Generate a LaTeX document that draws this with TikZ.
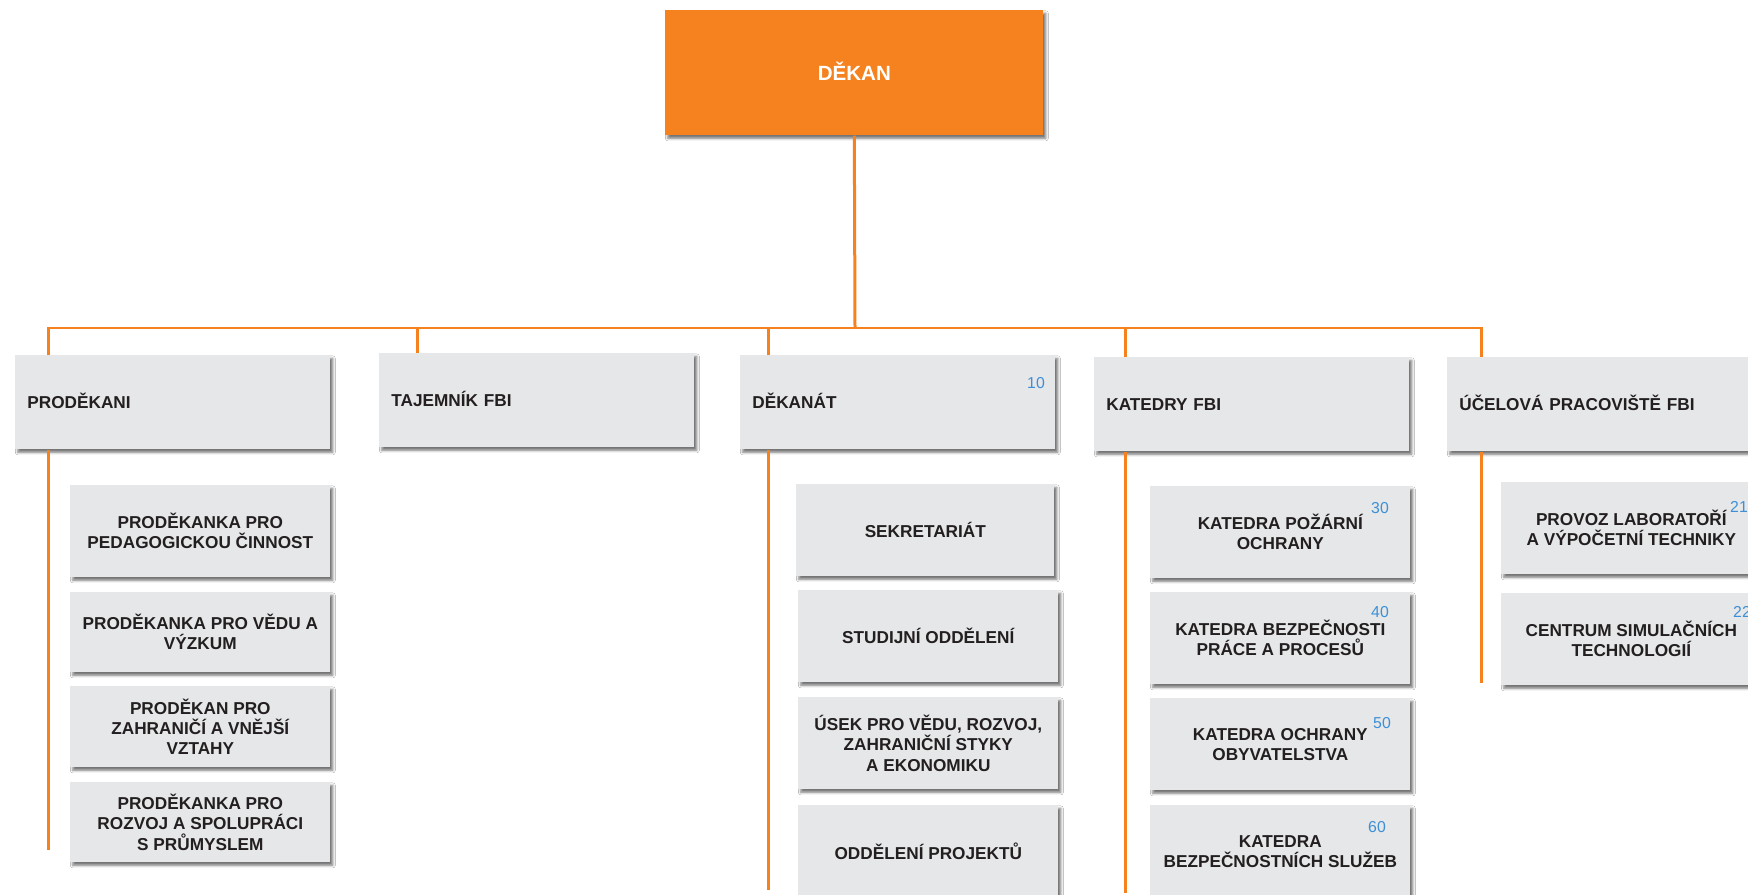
\documentclass[tikz,border=0pt]{standalone}
\usepackage{fontspec}
\setmainfont{Liberation Sans}
\usetikzlibrary{calc,shadows.blur}
\definecolor{fbiorange}{HTML}{F5821F}
\definecolor{boxgray}{HTML}{E6E7E8}
\definecolor{numblue}{HTML}{3D8FD6}
\definecolor{ink}{HTML}{231F20}
\tikzset{
	card/.style={anchor=north west, fill=boxgray, inner sep=0pt, text=ink,
		font=\fontsize{9.8}{11.4}\selectfont\bfseries,
		blur shadow={shadow xshift=0.05cm, shadow yshift=-0.06cm, shadow blur radius=0.05cm,
			shadow blur steps=4, shadow opacity=55}},
	headbox/.style={card, minimum width=6.3cm, minimum height=1.88cm, text width=5.82cm, align=left,
		text height=0.8em, text depth=0.05em},
	subbox/.style={card, minimum width=5.2cm, minimum height=1.84cm, align=center},
	link/.style={draw=fbiorange, line width=0.06cm},
	num/.style={text=numblue, font=\fontsize{9}{10}\selectfont, inner sep=0pt},
}

\begin{document}
\begin{tikzpicture}[x=0.02cm, y=-0.02cm]
		%%%%% START %%%%%
		
		\fill[white] (0, 0) rectangle (1748, 895);
		\useasboundingbox (0, 0) rectangle (1748, 895);
		
		\node[card, fill=fbiorange, text=white, minimum width=7.56cm, minimum height=2.5cm,
			text height=0.85em, text depth=0pt,
			font=\fontsize{11.7}{14}\selectfont\bfseries] (dekan) at (665, 10) {DĚKAN};
		
		\node[headbox] (prodekani) at (15, 355) {PRODĚKANI};
		\node[headbox] (tajemnik) at (379, 353) {TAJEMNÍK FBI};
		\node[headbox] (dekanat) at (740, 355) {DĚKANÁT};
		\node[headbox] (katedry) at (1094, 357) {KATEDRY FBI};
		\node[headbox] (ucelova) at (1447, 357) {ÚČELOVÁ PRACOVIŠTĚ FBI};
		
		\node[subbox] (pro1) at (70, 485) {PRODĚKANKA PRO\\PEDAGOGICKOU ČINNOST};
		\node[subbox, minimum height=1.6cm] (pro2) at (70, 592) {PRODĚKANKA PRO VĚDU A\\VÝZKUM};
		\node[subbox, minimum height=1.62cm] (pro3) at (70, 686) {PRODĚKAN PRO\\ZAHRANIČÍ A VNĚJŠÍ\\VZTAHY};
		\node[subbox, minimum height=1.6cm] (pro4) at (70, 782) {PRODĚKANKA PRO\\ROZVOJ A SPOLUPRÁCI\\S PRŮMYSLEM};
		
		\node[subbox, minimum width=5.16cm] (sekr) at (796, 484) {SEKRETARIÁT};
		\node[subbox] (stud) at (798, 590) {STUDIJNÍ ODDĚLENÍ};
		\node[subbox] (usek) at (798, 697) {ÚSEK PRO VĚDU, ROZVOJ,\\ZAHRANIČNÍ STYKY\\A EKONOMIKU};
		\node[subbox] (projekty) at (798, 805) {ODDĚLENÍ PROJEKTŮ};
		
		\node[subbox] (kat1) at (1150, 486) {KATEDRA POŽÁRNÍ\\OCHRANY};
		\node[subbox] (kat2) at (1150, 592) {KATEDRA BEZPEČNOSTI\\PRÁCE A PROCESŮ};
		\node[subbox] (kat3) at (1150, 698) {KATEDRA OCHRANY\\OBYVATELSTVA};
		\node[subbox] (kat4) at (1150, 805) {KATEDRA\\BEZPEČNOSTNÍCH SLUŽEB};
		
		\node[subbox] (lab) at (1501, 482) {PROVOZ LABORATOŘÍ\\A VÝPOČETNÍ TECHNIKY};
		\node[subbox] (centrum) at (1501, 593) {CENTRUM SIMULAČNÍCH\\TECHNOLOGIÍ};
		
		\node[num] (n10) at (1036, 383) {10};
		\node[num] (n30) at (1380, 508) {30};
		\node[num] (n40) at (1380, 612) {40};
		\node[num] (n50) at (1382, 723) {50};
		\node[num] (n60) at (1377, 827) {60};
		\node[num] (n21) at (1739, 507) {21};
		\node[num] (n22) at (1742, 612) {22};
		
		\coordinate (hub) at (855, 328);
		\coordinate (d1) at ($(prodekani.north west)+(33, 0)$);
		\coordinate (d2) at ($(tajemnik.north west)+(38, 0)$);
		\coordinate (d3) at ($(dekanat.north west)+(28, 0)$);
		\coordinate (d4) at ($(katedry.north west)+(31, 0)$);
		\coordinate (d5) at ($(ucelova.north west)+(34, 0)$);
		\coordinate (e1) at (48, 850);
		\coordinate (e3) at (768, 890);
		\coordinate (e4) at (1125, 893);
		\coordinate (e5) at (1481, 683);
		
		\draw[link] (dekan.south) -- (hub);
		\draw[link] (d1) |- (hub) -| (d5);
		\draw[link] (d2) -- (d2 |- hub);
		\draw[link] (d3) -- (d3 |- hub);
		\draw[link] (d4) -- (d4 |- hub);
		
		\draw[link] (prodekani.south -| d1) -- (e1);
		\draw[link] (dekanat.south -| d3) -- (e3);
		\draw[link] (katedry.south -| d4) -- (e4);
		\draw[link] (ucelova.south -| d5) -- (e5);
		
		%%%%% END %%%%%
\end{tikzpicture}
\end{document}
